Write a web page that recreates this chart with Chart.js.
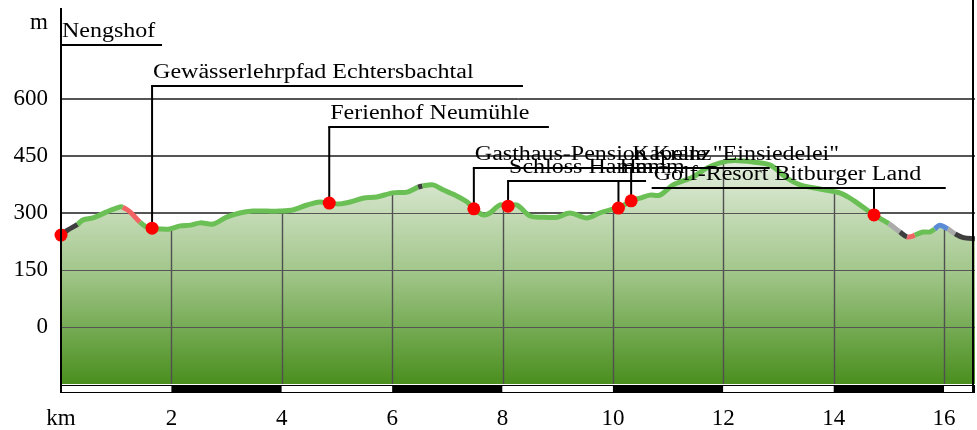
<!DOCTYPE html>
<html><head><meta charset="utf-8">
<script src="https://cdn.jsdelivr.net/npm/chart.js@4.4.1/dist/chart.umd.min.js"></script>
<style>html,body{margin:0;padding:0;background:#fff;overflow:hidden}#wrap{width:977px;height:430px;position:relative}</style>
</head><body><div id="wrap"><canvas id="c" width="977" height="430"></canvas></div>
<script>
// ---- data ----
const distanceKm = [0.00,0.12,0.30,0.40,0.58,0.83,1.07,1.12,1.25,1.43,1.55,1.65,1.79,1.97,2.16,2.34,2.52,2.76,3.00,3.24,3.48,3.73,3.97,4.20,4.46,4.69,4.86,5.05,5.24,5.47,5.72,6.01,6.27,6.47,6.55,6.74,6.92,7.17,7.36,7.48,7.65,7.77,7.95,8.10,8.26,8.50,8.73,8.99,9.22,9.53,9.76,9.95,10.10,10.33,10.49,10.67,10.85,11.09,11.45,11.70,11.94,12.20,12.54,12.85,13.15,13.39,13.75,14.11,14.35,14.73,15.00,15.20,15.33,15.43,15.47,15.62,15.74,15.83,15.92,16.07,16.20,16.35,16.56];
const elevationM = [242,255,270,282,287,303,316,315,303,276,263,260,258,258,266,268,274,271,289,300,305,305,305,308,321,329,326,324,329,339,342,353,355,368,371,374,361,345,329,311,295,300,321,318,321,292,289,289,300,287,300,308,313,332,339,347,347,374,395,418,432,438,434,426,392,374,363,353,334,295,272,250,237,239,242,250,250,258,268,258,245,235,232];
// surface type of the segment starting at each point
const surfaceType = ['d','d','g','g','g','g','g','r','r','g','g','g','g','g','g','g','g','g','g','g','g','g','g','g','g','g','g','g','g','g','g','g','g','d','g','g','g','g','g','g','g','g','g','g','g','g','g','g','g','g','g','g','g','g','g','g','g','g','g','g','g','g','g','g','g','g','g','g','g','g','x','d','r','r','g','g','g','b','b','x','d','d','d'];
const surfaceColors = {g:'#6abf55', d:'#3e3e3e', r:'#f26464', x:'#aaaaaa', b:'#5b8bd6'};

const poiNames = ['Nengshof','Gewässerlehrpfad Echtersbachtal','Ferienhof Neumühle','Gasthaus-Pension Kranz','Schloss Hamm','Hamm','Kapelle "Einsiedelei"','Golf-Resort Bitburger Land'];
const poiKm = [0.00,1.65,4.86,7.48,8.10,10.10,10.33,14.73];
const poiElevM = [242,260,326,311,318,313,332,295];
const poiLabelLevelM = [742,634,526,418,384,384,418,366];
const poiLabelFromKm = [0.00,1.65,4.86,7.48,8.10,10.10,10.33,10.72];
const poiLabelToKm = [1.83,8.37,8.84,11.94,10.49,10.60,12.84,16.03];

const yTicks = [0,150,300,450,600];
const yUnitLabel = 'm';
const xTicks = [0,2,4,6,8,10,12,14,16];
const xUnitLabel = 'km';

// ---- chart ----
const FONT = '"Liberation Serif","Times New Roman",serif';
const profile = distanceKm.map((k,i)=>({x:k,y:elevationM[i]}));
const pois = poiKm.map((k,i)=>({x:k,y:poiElevM[i]}));

const gridPlugin = {
  id:'profileGrid',
  afterDatasetDraw(chart,args){
    const {ctx,chartArea:a,scales:{x,y}} = chart;
    if(args.index===0){
      const meta = chart.getDatasetMeta(0);
      ctx.save();
      ctx.beginPath();
      meta.data.forEach((p,i)=>{ if(i===0) ctx.moveTo(p.x,p.y); else ctx.lineTo(p.x,p.y); });
      ctx.lineTo(meta.data[meta.data.length-1].x,a.bottom);
      ctx.lineTo(meta.data[0].x,a.bottom);
      ctx.closePath();
      ctx.clip();
      ctx.strokeStyle='#505050';
      ctx.lineWidth=1.4;
      xTicks.forEach(v=>{ if(v===0) return; const px=Math.round(x.getPixelForValue(v))+0.5; ctx.beginPath(); ctx.moveTo(px,a.top); ctx.lineTo(px,a.bottom); ctx.stroke(); });
      ctx.restore();
      ctx.save();
      ctx.strokeStyle='#555'; ctx.lineWidth=1;
      yTicks.forEach(v=>{ const py=Math.round(y.getPixelForValue(v))+0.5; ctx.beginPath(); ctx.moveTo(a.left,py); ctx.lineTo(a.right,py); ctx.stroke(); });
      ctx.restore();
    }
    if(args.index===1){
      ctx.save();
      ctx.strokeStyle='#000'; ctx.fillStyle='#000'; ctx.lineWidth=2;
      poiNames.forEach((name,i)=>{
        const px=x.getPixelForValue(poiKm[i]), py=y.getPixelForValue(poiElevM[i]);
        const ly=Math.round(y.getPixelForValue(poiLabelLevelM[i]));
        const x0=x.getPixelForValue(poiLabelFromKm[i]), x1=x.getPixelForValue(poiLabelToKm[i]);
        ctx.beginPath(); ctx.moveTo(px,py); ctx.lineTo(px,ly); ctx.stroke();
        ctx.beginPath(); ctx.moveTo(x0-1,ly); ctx.lineTo(x1,ly); ctx.stroke();
        ctx.save();
        ctx.translate(x0+1,ly-8);
        ctx.scale(1.2,1);
        ctx.font='20px '+FONT;
        ctx.fillText(name,0,0);
        ctx.restore();
      });
      ctx.restore();
    }
  },
  afterDraw(chart){
    const {ctx,chartArea:a,scales:{x}} = chart;
    ctx.save();
    const top=a.bottom+1, h=8;
    for(let k=0;k<x.max;k+=2){
      const x0=x.getPixelForValue(k), x1=x.getPixelForValue(Math.min(k+2,x.max));
      ctx.fillStyle = (k/2)%2===1 ? '#000' : '#fff';
      ctx.fillRect(x0,top,x1-x0,h);
    }
    ctx.strokeStyle='#000'; ctx.lineWidth=1;
    ctx.strokeRect(a.left+0.5,top+0.5,a.right-a.left-1,h-1);
    ctx.lineWidth=2;
    ctx.beginPath(); ctx.moveTo(a.right-2,0); ctx.lineTo(a.right-2,top+h); ctx.stroke();
    ctx.beginPath(); ctx.moveTo(a.left,a.top); ctx.lineTo(a.left,top+h); ctx.stroke();
    ctx.restore();
  }
};

new Chart(document.getElementById('c'),{
  type:'line',
  data:{datasets:[
    {label:'fill',data:profile,order:3,borderWidth:0,pointRadius:0,tension:0.3,
     fill:'start',
     backgroundColor:(c)=>{const ch=c.chart;const a=ch.chartArea;if(!a)return '#9c8';
       const g=ch.ctx.createLinearGradient(0,ch.scales.y.getPixelForValue(450),0,a.bottom);
       g.addColorStop(0,'#e6efe1');g.addColorStop(0.5,'#a3c78c');g.addColorStop(1,'#4a8f1e');return g;}},
    {label:'profile',data:profile,order:2,borderWidth:5,pointRadius:0,tension:0.3,fill:false,
     borderColor:'#6abf55',borderCapStyle:'butt',
     segment:{borderColor:(c)=>surfaceColors[surfaceType[c.p0DataIndex]]}},
    {label:'poi',data:pois,order:1,showLine:false,pointRadius:6.5,pointHoverRadius:6.5,
     pointBackgroundColor:'#ff0000',pointBorderWidth:0,clip:false}
  ]},
  options:{
    responsive:false,animation:false,
    layout:{autoPadding:false,padding:{top:9,right:2,left:0,bottom:0}},
    plugins:{legend:{display:false},tooltip:{enabled:false}},
    scales:{
      x:{type:'linear',min:0,max:16.56,
        afterBuildTicks:(s)=>{s.ticks=xTicks.map(v=>({value:v}));},
        afterFit:(s)=>{s.height=46;s.paddingLeft=0;s.paddingRight=0;},
        grid:{display:false},border:{display:false},
        ticks:{autoSkip:false,maxRotation:0,padding:13,color:'#000',font:{family:FONT,size:23},
          callback:(v)=>v===0?xUnitLabel:String(v)}},
      y:{type:'linear',min:-150,max:836.8,
        afterBuildTicks:(s)=>{s.ticks=yTicks.concat([800]).map(v=>({value:v}));},
        afterFit:(s)=>{s.width=61;s.paddingTop=0;s.paddingBottom=0;},
        grid:{drawTicks:false,lineWidth:1,color:(c)=>c.tick&&c.tick.value===800?'rgba(0,0,0,0)':'#555'},
        border:{display:true,color:'#000',width:2},
        ticks:{padding:13,color:'#000',font:{family:FONT,size:23},
          callback:(v)=>v===800?yUnitLabel:String(v)}}
    }
  },
  plugins:[gridPlugin]
});
</script></body></html>
